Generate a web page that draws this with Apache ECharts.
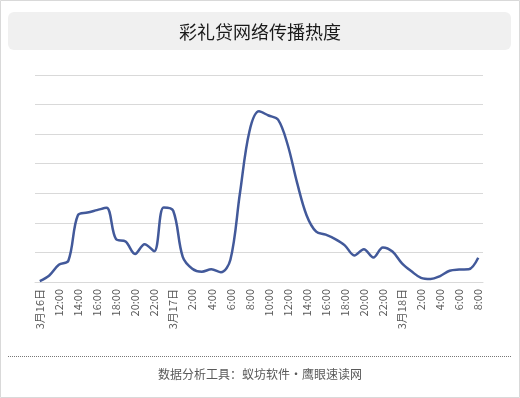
<!DOCTYPE html>
<html>
<head>
<meta charset="utf-8">
<script src="https://cdn.jsdelivr.net/npm/echarts@6/dist/echarts.min.js"></script>
<style>
  html, body { margin: 0; padding: 0; background: #fff; }
  #chart { width: 520px; height: 398px; }
</style>
</head>
<body>
<div id="chart"></div>
<script>
// hourly points, 3月16日 10:00 → 3月18日 8:00
const categories = [
  '3月16日', '11:00', '12:00', '13:00', '14:00', '15:00', '16:00', '17:00', '18:00', '19:00',
  '20:00', '21:00', '22:00', '23:00',
  '3月17日', '1:00', '2:00', '3:00', '4:00', '5:00', '6:00', '7:00', '8:00', '9:00',
  '10:00', '11:00', '12:00', '13:00', '14:00', '15:00', '16:00', '17:00', '18:00', '19:00',
  '20:00', '21:00', '22:00', '23:00',
  '3月18日', '1:00', '2:00', '3:00', '4:00', '5:00', '6:00', '7:00', '8:00'
];

const heat = [
  3, 22, 58, 72, 226, 235, 243, 251, 145, 137,
  95, 128, 104, 252,
  241, 85, 45, 35, 43, 33, 75, 300, 510, 577,
  563, 549, 465, 335, 225, 170, 160, 145, 124, 90,
  111, 83, 117, 103,
  63, 36, 14, 10, 20, 38, 42, 43, 82
];

const yMax = 700;
const yStep = 100;

const chart = echarts.init(document.getElementById('chart'));

chart.setOption({
  animation: false,
  title: {
    text: '彩礼贷网络传播热度',
    left: 'center',
    top: 18,
    textStyle: {
      fontFamily: 'Noto Sans CJK SC',
      fontSize: 18,
      fontWeight: 'normal',
      color: '#1a1a1a'
    }
  },
  graphic: [
    {
      type: 'rect',
      z: -10,
      shape: { x: 0.5, y: 0.5, width: 519, height: 397 },
      style: { fill: '#fff', stroke: '#d9d9d9', lineWidth: 1 }
    },
    {
      type: 'rect',
      z: -5,
      shape: { x: 8, y: 12, width: 503, height: 38, r: 6 },
      style: { fill: '#f0f0f0' }
    },
    {
      type: 'line',
      shape: { x1: 8, y1: 356.5, x2: 511, y2: 356.5 },
      style: { stroke: '#777', lineWidth: 1, lineDash: [1, 1] }
    },
    {
      type: 'text',
      x: 260,
      y: 374,
      style: {
        text: '数据分析工具：蚁坊软件・鹰眼速读网',
        fontFamily: 'Noto Sans CJK SC',
        fontSize: 12,
        fill: '#595959',
        align: 'center',
        verticalAlign: 'middle'
      }
    }
  ],
  grid: {
    left: 35,
    right: 37,
    top: 75,
    bottom: 116
  },
  xAxis: {
    type: 'category',
    data: categories,
    boundaryGap: true,
    axisLine: { lineStyle: { color: '#d9d9d9', width: 1 } },
    axisTick: { show: false },
    axisLabel: {
      interval: 1,
      rotate: 90,
      margin: 7,
      fontFamily: 'Noto Sans CJK SC',
      fontSize: 11,
      color: '#595959'
    }
  },
  yAxis: {
    type: 'value',
    min: 0,
    max: yMax,
    interval: yStep,
    axisLine: { show: false },
    axisTick: { show: false },
    axisLabel: { show: false },
    splitLine: { lineStyle: { color: '#d9d9d9', width: 1 } }
  },
  series: [
    {
      type: 'line',
      data: heat,
      smooth: 0.35,
      symbol: 'none',
      lineStyle: { color: '#42599a', width: 2.5 }
    }
  ]
});
</script>
</body>
</html>
